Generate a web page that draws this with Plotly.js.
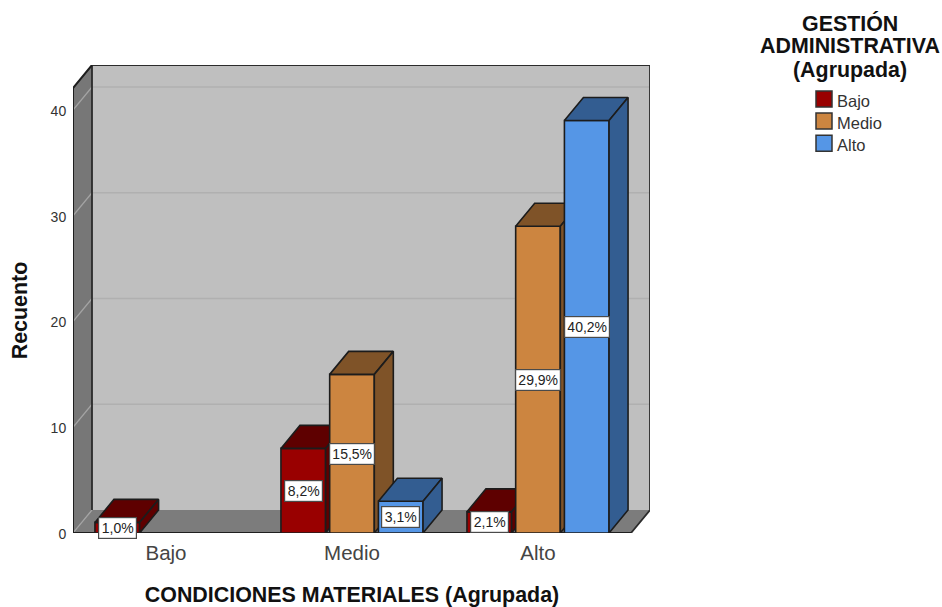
<!DOCTYPE html>
<html>
<head>
<meta charset="utf-8">
<script src="https://cdn.plot.ly/plotly-3.0.1.min.js"></script>
<style>html,body{margin:0;padding:0;background:#fff}</style>
</head>
<body>
<div id="chart" style="width:942px;height:607px"></div>
<script>
// Counts per material-conditions group, split by administrative management level
const categories = ['Bajo', 'Medio', 'Alto'];
const seriesNames = ['Bajo', 'Medio', 'Alto'];
const countsBajo = [1, 8, 2];
const countsMedio = [null, 15, 29];
const countsAlto = [null, 3, 39];
const labelsBajo = ['1,0%', '8,2%', '2,1%'];
const labelsMedio = [null, '15,5%', '29,9%'];
const labelsAlto = [null, '3,1%', '40,2%'];
const yTicks = [0, 10, 20, 30, 40];
const gridValues = [10, 20, 30, 40];
const legendHeading = ['GESTIÓN', 'ADMINISTRATIVA', '(Agrupada)'];

const frontColors = ['#990000', '#cc8540', '#5596e6'];
const shadeColors = ['#5e0000', '#7f5328', '#335d91'];
const outline = '#1c1c1c';
const wallBack = '#bfbfbf', wallSide = '#777777', floorColor = '#7c7c7c';

// Layout of the drawing, in pixels: front plane and the shift towards the back wall
const W = 942, H = 607;
const frontL = 73, frontR = 631, frontB = 533, frontT = 88;
const backR = 650, backT = 65;
const xMin = -0.5, xMax = 2.5;
const yMax = 42.08;
const unitX = (frontR - frontL) / (xMax - xMin);
const unitY = (frontB - frontT) / yMax;
const depthX = (backR - frontR) / unitX;
const depthY = (frontT - backT) / unitY;
const barWidth = 0.24, slot = 0.262;

const paperX = px => (px - frontL) / (backR - frontL);
const paperY = py => (frontB - py) / (frontB - backT);

const traces = [];

// Room (walls, floor and grid) sits on its own axes covering front and back planes
function room(xs, ys, extra) {
  traces.push(Object.assign({
    type: 'scatter', mode: 'lines', x: xs, y: ys, xaxis: 'x', yaxis: 'y',
    hoverinfo: 'skip', showlegend: false, cliponaxis: false
  }, extra));
}
const filled = (color) => ({fill: 'toself', fillcolor: color, line: {width: 0, color: color}});
const rx0 = xMin, rx1 = xMax, bx0 = xMin + depthX, bx1 = xMax + depthX, ty = yMax, by = depthY, tb = yMax + depthY;

room([bx0, bx1, bx1, bx0, bx0], [by, by, tb, tb, by], filled(wallBack));
room([rx0, bx0, bx0, rx0, rx0], [0, by, tb, ty, 0], filled(wallSide));
room([rx0, rx1, bx1, bx0, rx0], [0, 0, by, by, 0], filled(floorColor));
gridValues.forEach(v => {
  room([bx0, bx1], [v + depthY, v + depthY], {line: {color: '#b0b0b0', width: 1.5}});
  room([rx0, bx0], [v, v + depthY], {line: {color: '#a4a4a4', width: 1.2}});
});
room([rx0, bx0], [0, depthY], {line: {color: '#a4a4a4', width: 1.2}});
room([rx1, bx1, bx1, bx0, bx0], [0, by, tb, tb, by], {line: {color: '#2b2b2b', width: 1.8}});
room([rx1, rx0, rx0, bx0], [0, 0, ty, tb], {line: {color: '#1e1e1e', width: 2}});

// One overlaid subplot per series, so each series paints over the one before it
const seriesValues = [countsBajo, countsMedio, countsAlto];
const axisPairs = [['x2', 'y2'], ['x3', 'y3'], ['x4', 'y4']];
const positions = categories.map((c, i) => i);

seriesValues.forEach((values, s) => {
  const [xa, ya] = axisPairs[s];
  const start = (s - 1) * slot - barWidth / 2;
  traces.push({
    type: 'bar', name: seriesNames[s], x: positions, y: values, xaxis: xa, yaxis: ya,
    width: barWidth, offset: start, cliponaxis: false, showlegend: false,
    marker: {color: frontColors[s], line: {color: outline, width: 1.6}}
  });
  values.forEach((v, i) => {
    if (v === null) return;
    const x0 = i + start, x1 = x0 + barWidth;
    const face = (xs, ys) => traces.push({
      type: 'scatter', mode: 'lines', x: xs, y: ys, xaxis: xa, yaxis: ya,
      fill: 'toself', fillcolor: shadeColors[s], cliponaxis: false,
      line: {color: outline, width: 1.6}, hoverinfo: 'skip', showlegend: false
    });
    face([x0, x1, x1 + depthX, x0 + depthX, x0], [v, v, v + depthY, v + depthY, v]);
    face([x1, x1 + depthX, x1 + depthX, x1, x1], [0, depthY, v + depthY, v, 0]);
  });
});

// Percentage labels centred on each bar's front face
const annotations = [];
[labelsBajo, labelsMedio, labelsAlto].forEach((labels, s) => {
  labels.forEach((text, i) => {
    if (text === null) return;
    annotations.push({
      text: text, x: i + (s - 1) * slot, y: seriesValues[s][i] / 2,
      xref: axisPairs[s][0], yref: axisPairs[s][1], showarrow: false,
      width: text.length > 4 ? 40 : 33, height: 16,
      font: {family: 'Liberation Sans', size: 14, color: '#222'},
      bgcolor: '#ffffff', bordercolor: '#4a4a4a', borderwidth: 1.2, borderpad: 2
    });
  });
});

// Legend block: heading, swatches and entry names
const titleFont = {family: 'Liberation Sans', size: 21.4, color: '#111', weight: 700};
const headingRows = [23, 46.5, 70];
legendHeading.forEach((line, i) => {
  annotations.push({
    text: line, xref: 'paper', yref: 'paper', x: paperX(849.5), y: paperY(headingRows[i]),
    xanchor: 'center', yanchor: 'middle', showarrow: false, font: titleFont
  });
});
const shapes = [];
const legendRows = [99, 121, 143.3];
seriesNames.forEach((name, s) => {
  const cy = legendRows[s];
  shapes.push({
    type: 'rect', xref: 'paper', yref: 'paper', layer: 'above',
    x0: paperX(816), x1: paperX(832), y0: paperY(cy + 8), y1: paperY(cy - 8),
    fillcolor: frontColors[s], line: {color: '#333', width: 1.5}
  });
  annotations.push({
    text: name, xref: 'paper', yref: 'paper', x: paperX(835), y: paperY(cy + 2),
    xanchor: 'left', yanchor: 'middle', showarrow: false,
    font: {family: 'Liberation Sans', size: 16.5, color: '#333'}
  });
});

const frontDomainX = [0, paperX(frontR)];
const frontDomainY = [0, paperY(frontT)];
const hiddenAxis = (range, over) => ({range: range, overlaying: over, visible: false, fixedrange: true});

const layout = {
  width: W, height: H, autosize: false, showlegend: false,
  margin: {l: frontL, r: W - backR, t: backT, b: H - frontB, pad: 0},
  paper_bgcolor: '#ffffff', plot_bgcolor: 'rgba(0,0,0,0)',
  font: {family: 'Liberation Sans'},
  annotations: annotations, shapes: shapes,
  xaxis: {domain: [0, 1], range: [xMin, xMax + depthX], visible: false, fixedrange: true},
  yaxis: {domain: [0, 1], range: [0, yMax + depthY], visible: false, fixedrange: true},
  xaxis2: {
    domain: frontDomainX, range: [xMin, xMax], anchor: 'y2', fixedrange: true,
    tickvals: positions, ticktext: categories, showgrid: false, zeroline: false, showline: false,
    ticks: 'outside', ticklen: 1, tickcolor: 'rgba(0,0,0,0)',
    tickfont: {family: 'Liberation Sans', size: 20.5, color: '#444'},
    title: {text: 'CONDICIONES MATERIALES (Agrupada)', standoff: 26, font: titleFont}
  },
  yaxis2: {
    domain: frontDomainY, range: [0, yMax], anchor: 'x2', fixedrange: true,
    tickvals: yTicks, showgrid: false, zeroline: false, showline: false,
    ticks: 'outside', ticklen: 3, tickcolor: 'rgba(0,0,0,0)', ticklabelshift: 1,
    tickfont: {family: 'Liberation Sans', size: 14, color: '#333'},
    title: {text: 'Recuento', standoff: 17, font: titleFont}
  },
  xaxis3: hiddenAxis([xMin, xMax], 'x2'), yaxis3: hiddenAxis([0, yMax], 'y2'),
  xaxis4: hiddenAxis([xMin, xMax], 'x2'), yaxis4: hiddenAxis([0, yMax], 'y2')
};

Plotly.newPlot('chart', traces, layout, {displayModeBar: false, staticPlot: true});
</script>
</body>
</html>
